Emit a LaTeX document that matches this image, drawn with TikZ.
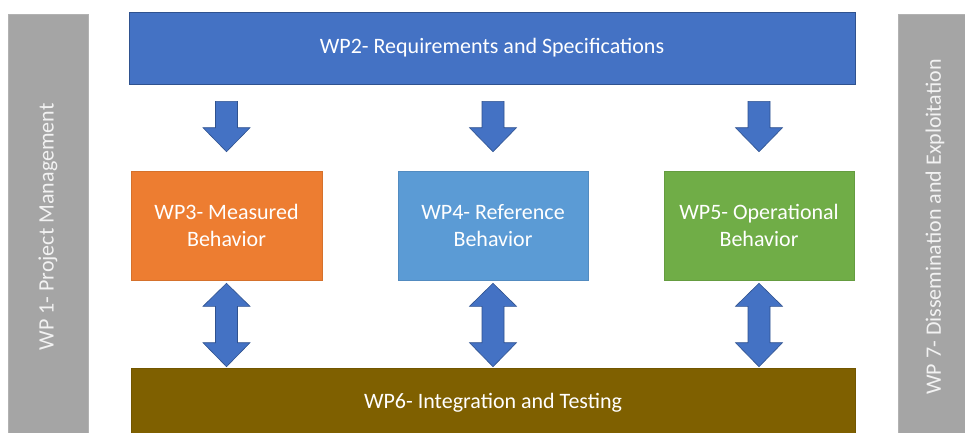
\documentclass[tikz,border=0pt]{standalone}
\usepackage{fontspec}
\setmainfont{Carlito}
\usetikzlibrary{calc}
\definecolor{wpblue}{HTML}{4472C4}
\definecolor{wpblueline}{HTML}{2F528F}
\definecolor{wporange}{HTML}{ED7D31}
\definecolor{wplight}{HTML}{5B9BD5}
\definecolor{wpgreen}{HTML}{70AD47}
\definecolor{wpbrown}{HTML}{7F6000}
\definecolor{wpgray}{HTML}{A5A5A5}
\definecolor{wpgraytext}{HTML}{F2F2F2}
\newcommand\DownBlock[2]{%
  \draw[blockarrow] let \p1=(#2.north), \p2=(#1.south) in
    (\x1-11pt,\y2-17pt) -- (\x1+11pt,\y2-17pt) -- (\x1+11pt,\y1+43pt) --
    (\x1+23.5pt,\y1+43pt) -- (\x1,\y1+19pt) -- (\x1-23.5pt,\y1+43pt) --
    (\x1-11pt,\y1+43pt) -- cycle;}
\newcommand\UpDownBlock[2]{%
  \draw[blockarrow] let \p1=(#1.south), \p2=(#2.north) in
    (\x1,\y1-3pt) -- (\x1+23.5pt,\y1-26pt) -- (\x1+11pt,\y1-26pt) --
    (\x1+11pt,\y2+25pt) -- (\x1+23.5pt,\y2+25pt) -- (\x1,\y2+1pt) --
    (\x1-23.5pt,\y2+25pt) -- (\x1-11pt,\y2+25pt) -- (\x1-11pt,\y1-26pt) --
    (\x1-23.5pt,\y1-26pt) -- cycle;}
\begin{document}
\begin{tikzpicture}[x=1pt,y=-1pt,
  box/.style={rectangle, inner sep=0pt, text=white, align=center,
    font=\fontsize{22}{27}\selectfont, line width=0.6pt},
  sidebar/.style={rectangle, inner sep=0pt, fill=wpgray, draw=wpgray!85!white,
    text=wpgraytext, font=\fontsize{22}{26}\selectfont, rotate=90,
    minimum width=426pt},
  blockarrow/.style={fill=wpblue, draw=wpblueline, line width=0.6pt, line join=miter}]
\useasboundingbox (0,0) rectangle (965,432);
\fill[white] (0,0) rectangle (965,432);
\node[sidebar, minimum height=80pt] (wp1) at (48,227) {WP 1- Project Management};
\node[sidebar, minimum height=74pt] (wp7) at (935,227) {WP 7- Dissemination and Exploitation};
\node[box, fill=wpblue, draw=wpblueline, minimum width=726pt, minimum height=72pt] (wp2) at (492,48)
  {WP2- Requirements and Specifications};
\node[box, fill=wporange, draw=wporange!90!black, minimum width=191pt, minimum height=109pt] (wp3) at (226.5,225.5)
  {WP3- Measured\\Behavior};
\node[box, fill=wplight, draw=wplight!90!black, minimum width=190pt, minimum height=109pt] (wp4) at (493,225.5)
  {WP4- Reference\\Behavior};
\node[box, fill=wpgreen, draw=wpgreen!90!black, minimum width=190pt, minimum height=109pt] (wp5) at (759,225.5)
  {WP5- Operational\\Behavior};
\node[box, fill=wpbrown, draw=wpbrown!90!black, minimum width=724pt, minimum height=70pt] (wp6) at (493,403)
  {WP6- Integration and Testing};
\DownBlock{wp2}{wp3}
\DownBlock{wp2}{wp4}
\DownBlock{wp2}{wp5}
\UpDownBlock{wp3}{wp6}
\UpDownBlock{wp4}{wp6}
\UpDownBlock{wp5}{wp6}
\end{tikzpicture}
\end{document}
